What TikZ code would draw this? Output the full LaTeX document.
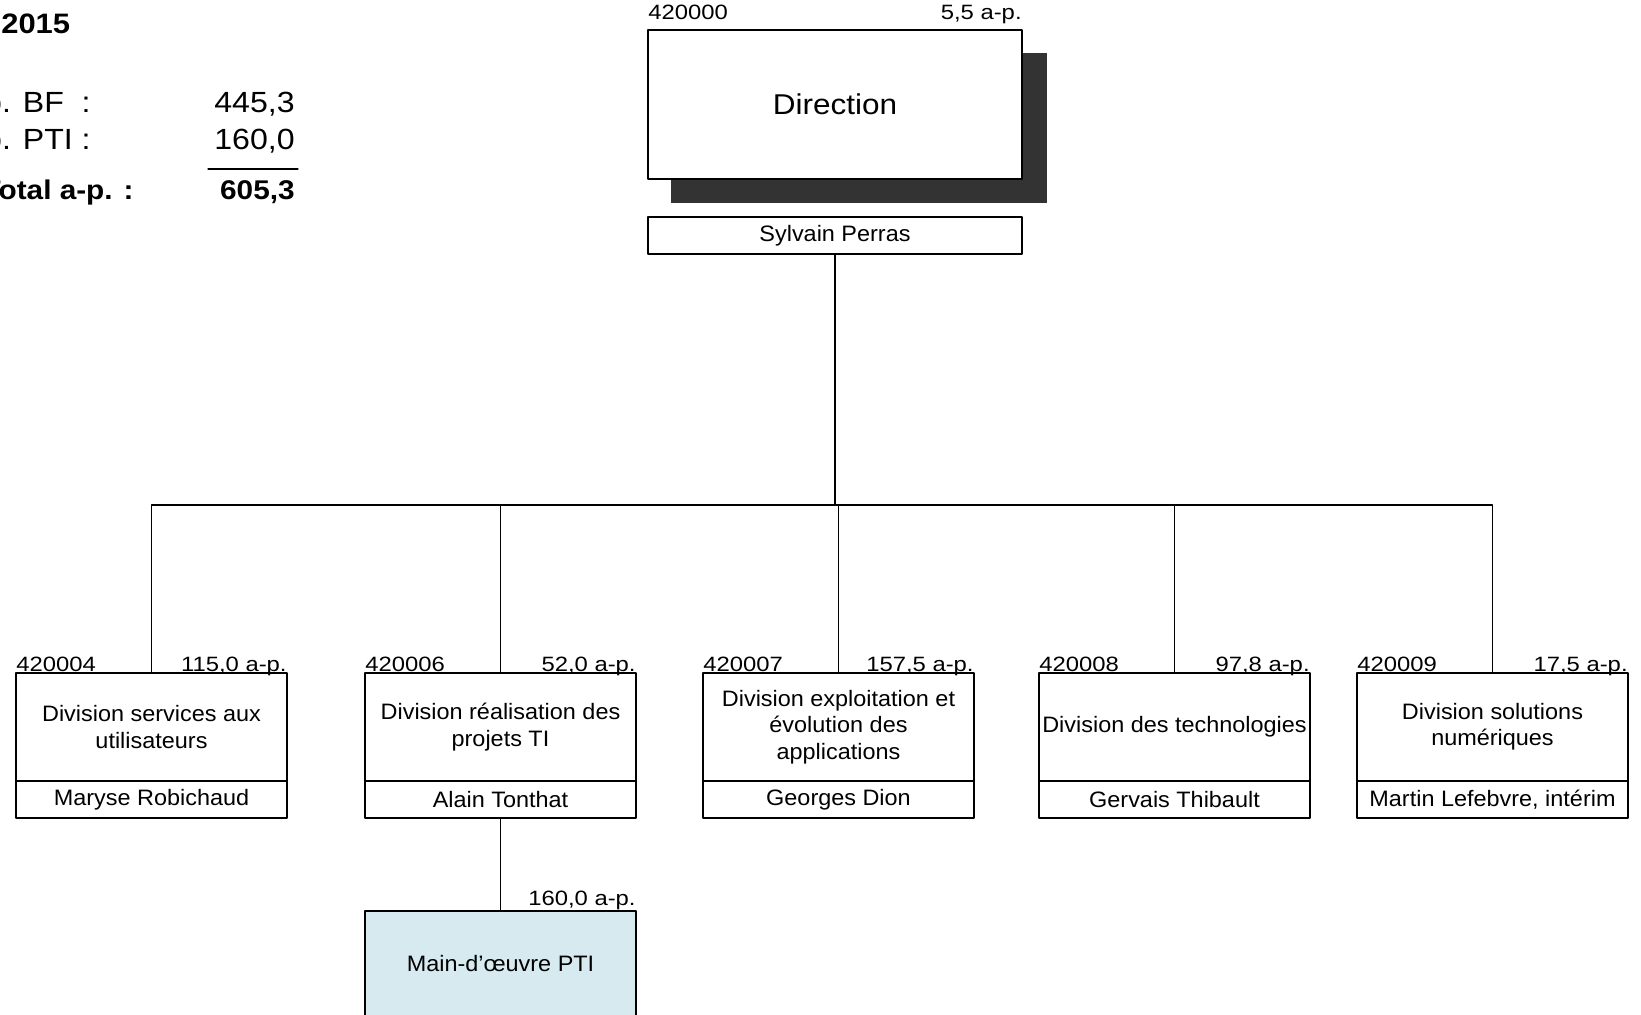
\documentclass[tikz,border=0pt]{standalone}
\usepackage{fontspec}
\setmainfont[FakeStretch=1.05]{Liberation Sans}
\newfontfamily\titlefont[FakeStretch=1.1]{Liberation Sans}
\newfontfamily\codefont[FakeStretch=1.15]{Liberation Sans}
\usepackage{xcolor}
\usepackage{tikz}
\usetikzlibrary{positioning,calc}

\definecolor{shadowgray}{RGB}{51,51,51}
\definecolor{ptiblue}{RGB}{214,234,240}

\begin{document}
\begin{tikzpicture}[
				x=0.2mm,y=-0.2mm,
				line cap=round,line join=round,
				boxline/.style={draw=black, line width=0.8pt, outer sep=0pt, inner sep=0pt, align=center},
				dirbox/.style={boxline, fill=white, minimum width=74.8mm, minimum height=29.8mm, font=\titlefont\fontsize{16.3}{19}\selectfont},
				shadowbox/.style={fill=shadowgray, minimum width=75.2mm, minimum height=30mm, inner sep=0pt, outer sep=0pt},
				chefbox/.style={boxline, fill=white, minimum width=74.8mm, minimum height=7.4mm, font=\fontsize{12.7}{14}\selectfont},
				divbox/.style={boxline, fill=white, minimum width=54.2mm, minimum height=21.6mm, font=\fontsize{12.7}{15}\selectfont},
				namebox/.style={boxline, fill=white, minimum width=54.2mm, minimum height=7.4mm, font=\fontsize{12.7}{14}\selectfont},
				ptibox/.style={boxline, fill=ptiblue, minimum width=54.2mm, minimum height=21mm, font=\fontsize{12.7}{14}\selectfont},
				codelab/.style={inner sep=0pt, font=\codefont\fontsize{11.8}{13}\selectfont},
				sumtxt/.style={inner sep=0pt, font=\titlefont\fontsize{16.6}{18}\selectfont},
				link/.style={draw=black, line width=0.7pt}
				]
				% ---- page (reference size in px)
				\useasboundingbox (0,0) rectangle (1641,1014);
				\clip (0,0) rectangle (1641,1014);
				
				% ---- summary, top left
				\node[sumtxt, anchor=base west, font=\titlefont\bfseries\fontsize{16}{18}\selectfont] (yr) at (1,33) {2015};
				\node[sumtxt, anchor=base east] (bflab) at (91,112) {a-p. BF~~:};
				\node[sumtxt, anchor=base east] (bfval) at (295,112) {445,3};
				\node[sumtxt, anchor=base east] (ptilab) at (91,149) {a-p. PTI :};
				\node[sumtxt, anchor=base east] (ptival) at (295,149) {160,0};
				\coordinate (rl) at (208,169);
				\coordinate (rr) at (298,169);
				\draw[line width=0.7pt] (rl) -- (rr);
				\node[sumtxt, anchor=base east, font=\titlefont\bfseries\fontsize{15.4}{18}\selectfont] (totlab) at (134,199) {Total a-p. :};
				\node[sumtxt, anchor=base east, font=\titlefont\bfseries\fontsize{15.4}{18}\selectfont] (totval) at (295,199) {605,3};
				
				% ---- direction
				\node[shadowbox] (dirsh) at (859,128) {};
				\node[dirbox] (dir) at (835,104.5) {Direction};
				\node[codelab, anchor=base west] (dircode) at ($(dir.north west)+(0,-11)$) {420000};
				\node[codelab, anchor=base east] (dirap) at ($(dir.north east)+(0,-11)$) {5,5 a-p.};
				\node[chefbox, below=7.6mm of dir] (chef) {Sylvain Perras};
				
				% bus line
				\coordinate (bus) at (835,505);
				\draw[link, line width=1.1pt] (chef.south) -- (bus);
				
				% ---- divisions
				\foreach \i/\xc/\code/\ap/\title/\name in {
					1/151.5/420004/{115,0 a-p.}/{Division services aux\\utilisateurs}/{Maryse Robichaud},
					2/500.5/420006/{52,0 a-p.}/{Division réalisation des\\projets TI}/{Alain Tonthat},
					3/838.5/420007/{157,5 a-p.}/{Division exploitation et\\évolution des\\applications}/{Georges Dion},
					4/1174.5/420008/{97,8 a-p.}/{Division des technologies}/{Gervais Thibault},
					5/1492.5/420009/{17,5 a-p.}/{Division solutions\\numériques}/{Martin Lefebvre, intérim}}{
					\node[divbox] (div\i) at (\xc,727) {\title};
					\node[namebox, below=0pt of div\i] (nom\i) {\name};
					\node[codelab, anchor=base west] (code\i) at ($(div\i.north west)+(0,-2)$) {\code};
					\node[codelab, anchor=base east] (ap\i) at ($(div\i.north east)+(0,-2)$) {\ap};
					\draw[link] (div\i.north) |- (bus);
				}
				
				% ---- PTI workforce under division 2
				\node[ptibox, below=18.6mm of nom2] (pti) {Main-d’œuvre PTI};
				\node[codelab, anchor=base east] (ptiap) at ($(pti.north east)+(0,-6)$) {160,0 a-p.};
				\draw[link] (nom2.south) -- (pti.north);
			\end{tikzpicture}
\end{document}
